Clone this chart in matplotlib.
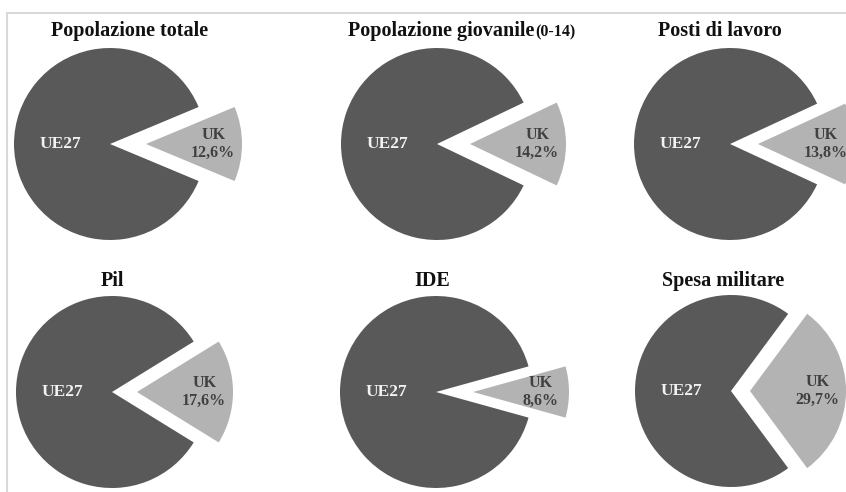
import matplotlib.pyplot as plt
from matplotlib.lines import Line2D

# quota UK sul totale UE (valori in %)
titles = ['Popolazione totale', 'Popolazione giovanile', 'Posti di lavoro',
          'Pil', 'IDE', 'Spesa militare']
title_suffix = ['', '(0-14)', '', '', '', '']
uk_share = [12.6, 14.2, 13.8, 17.6, 8.6, 29.7]
labels = ['UK', 'UE27']

# layout in pixel (figura 846x492, asse y rovesciato)
centers = [(110, 144), (437, 144), (730, 144),
           (112, 392), (436, 392), (731, 391)]
radius = 96
explode_px = [36, 33, 28, 25, 37, 19]
title_pos = [(130, 36), (461, 36), (720, 36), (112, 286), (432, 286), (723, 286)]

dark = '#595959'
light = '#b3b3b3'

plt.rcParams['font.family'] = ['Liberation Serif', 'DejaVu Serif']

fig = plt.figure(figsize=(8.46, 4.92), dpi=100)
ax = fig.add_axes([0, 0, 1, 1])

for i, share in enumerate(uk_share):
    cx, cy = centers[i]
    ax.pie([share, 100 - share], center=(cx, cy), radius=radius,
           explode=[explode_px[i], 0], startangle=-share * 3.6 / 2,
           colors=[light, dark], wedgeprops=dict(linewidth=0))
    ax.text(cx - 0.52 * radius, cy, labels[1], ha='center', va='center',
            fontsize=12.5, fontweight='bold', color='#f2f2f2')
    pct = f'{share:.1f}'.replace('.', ',') + '%'
    ax.text(cx + explode_px[i] + 0.7 * radius, cy, f'{labels[0]}\n{pct}',
            ha='center', va='center', fontsize=11.5, fontweight='bold',
            color='#404040', linespacing=1.15)

# titoli (con eventuale parte in corpo minore)
fig.canvas.draw()
renderer = fig.canvas.get_renderer()
for i, t in enumerate(titles):
    tx, ty = title_pos[i]
    main = ax.text(tx, ty, t, ha='left', va='baseline', fontsize=14.5,
                   fontweight='bold', color='#111111')
    parts = [main]
    if title_suffix[i]:
        parts.append(ax.text(tx, ty, title_suffix[i], ha='left', va='baseline',
                             fontsize=11.5, fontweight='bold', color='#111111'))
    widths = [p.get_window_extent(renderer).width for p in parts]
    x0 = tx - sum(widths) / 2
    for p, w in zip(parts, widths):
        p.set_x(x0)
        x0 += w + 1

# cornice grigia sopra e a sinistra
ax.add_line(Line2D([7, 846], [12.5, 12.5], color='#d9d9d9', lw=1.5))
ax.add_line(Line2D([7, 7], [12.5, 492], color='#d9d9d9', lw=1.5))

ax.set_xlim(0, 846)
ax.set_ylim(492, 0)
ax.set_aspect('equal')
ax.axis('off')

fig.savefig('out.png', dpi=100)
